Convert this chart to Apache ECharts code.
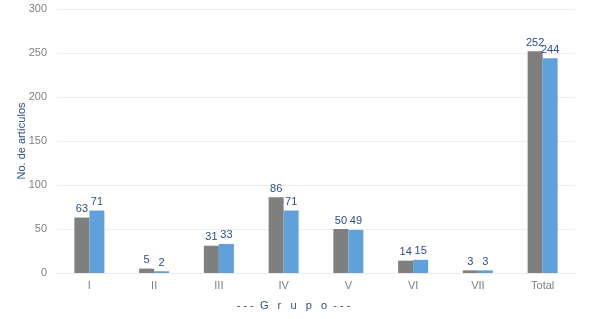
<!DOCTYPE html>
<html><head><meta charset="utf-8">
<script src="https://cdn.jsdelivr.net/npm/echarts@6/dist/echarts.min.js"></script>
<style>html,body{margin:0;padding:0;background:#fff}#c{width:592px;height:319px}</style>
</head><body><div id="c"></div>
<script>
var categories = ['I','II','III','IV','V','VI','VII','Total'];
var seriesA = [63,5,31,86,50,14,3,252];
var seriesB = [71,2,33,71,49,15,3,244];
var yTicks = {min:0, max:300, interval:50};

var chart = echarts.init(document.getElementById('c'));
var lbl = {show:true, position:'top', color:'#2f4e85', fontSize:11, fontFamily:'Liberation Sans, Arial', distance:3};
chart.setOption({
  animation:false,
  grid:{left:57, right:17, top:9, bottom:46, outerBoundsMode:'none'},
  xAxis:{type:'category', data:categories,
    axisLine:{lineStyle:{color:'#ececec'}}, axisTick:{show:false},
    axisLabel:{color:'#7f7f7f', fontSize:11, fontFamily:'Liberation Sans, Arial', margin:7},
    name:'- - -  G   r   u   p   o  - - -', nameLocation:'middle', nameGap:27, nameMoveOverlap:false,
    nameTextStyle:{color:'#2f4e85', fontSize:11, fontFamily:'Liberation Sans, Arial', padding:[0,45,0,0]}},
  yAxis:{type:'value', min:yTicks.min, max:yTicks.max, interval:yTicks.interval,
    axisLine:{show:false}, axisTick:{show:false},
    splitLine:{lineStyle:{color:'#efefef'}},
    axisLabel:{color:'#7f7f7f', fontSize:11, fontFamily:'Liberation Sans, Arial', margin:10},
    name:'No. de artículos', nameLocation:'middle', nameGap:30, nameRotate:90, nameMoveOverlap:false,
    nameTextStyle:{color:'#2f4e85', fontSize:11, fontFamily:'Liberation Sans, Arial'}},
  series:[
    {type:'bar', data:seriesA, barWidth:15, barGap:'0%', itemStyle:{color:'#7f7f7f'}, label:lbl},
    {type:'bar', data:seriesB, barWidth:15, itemStyle:{color:'#62a0db'}, label:lbl}
  ]
});
</script></body></html>
